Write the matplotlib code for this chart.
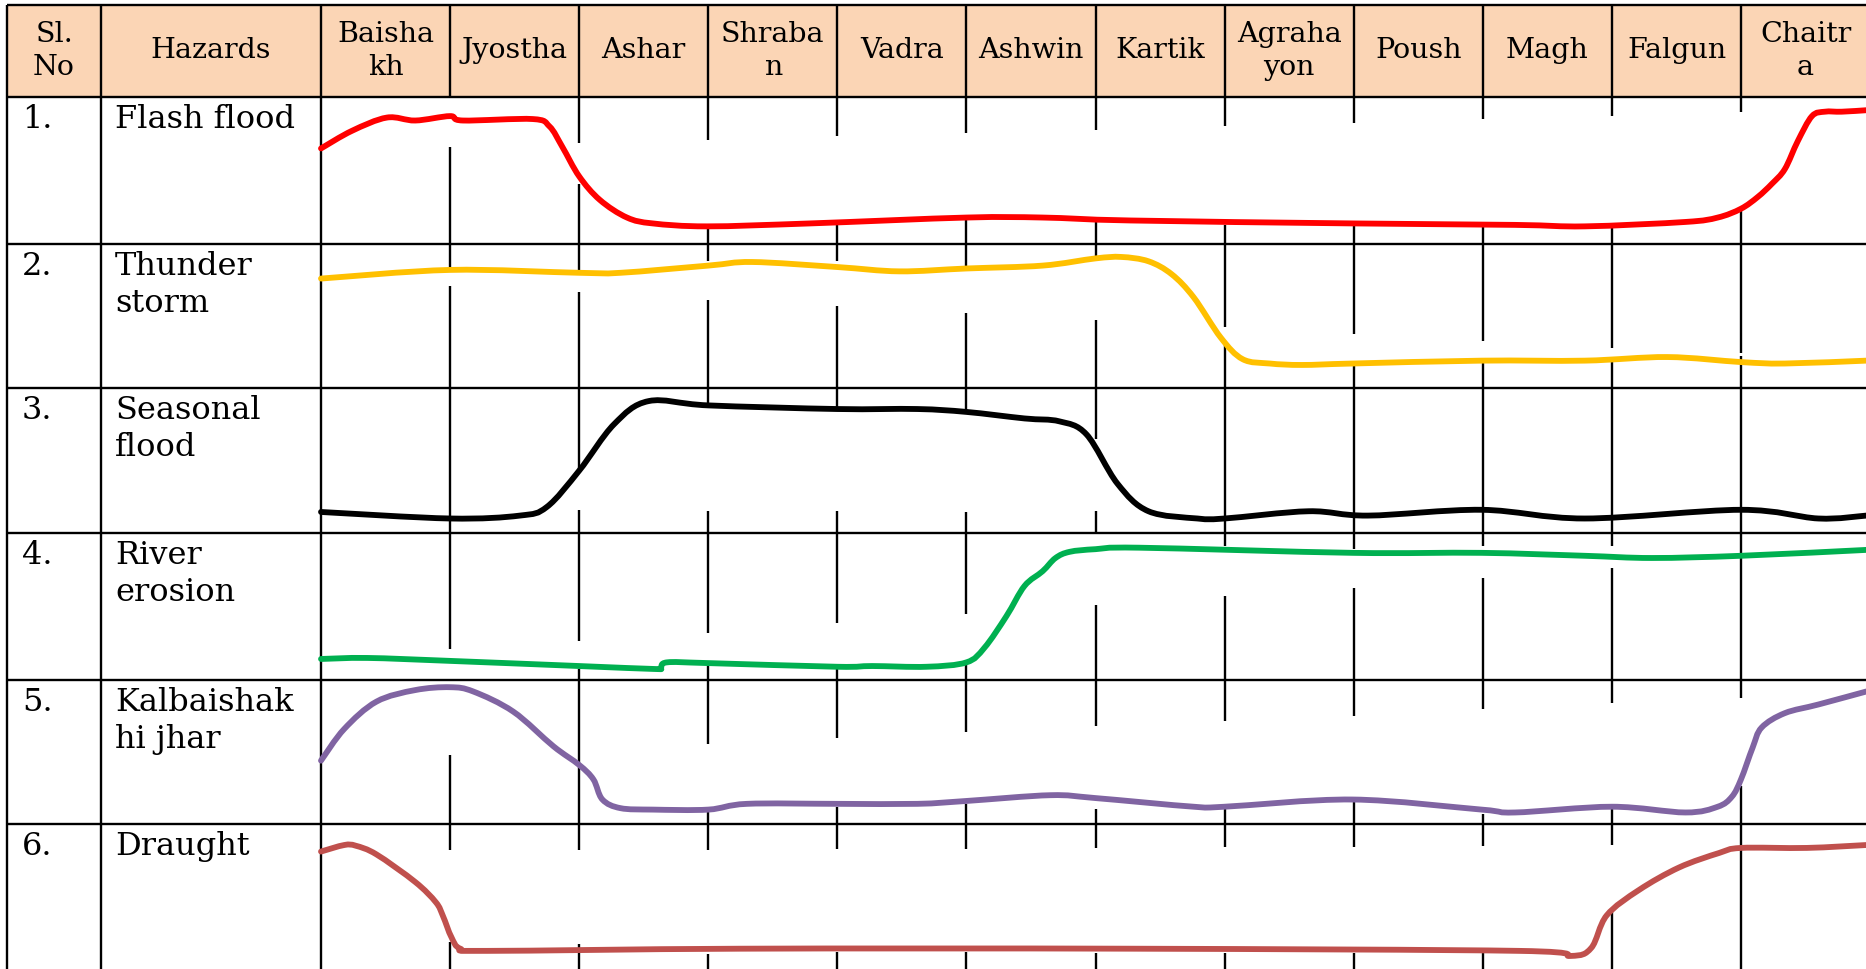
import numpy as np
import matplotlib
matplotlib.use('Agg')
import matplotlib.pyplot as plt
from matplotlib.patches import Rectangle, PathPatch
from matplotlib.path import Path

# ---- table text ----
months = ['Baisha\nkh', 'Jyostha', 'Ashar', 'Shraba\nn', 'Vadra', 'Ashwin',
          'Kartik', 'Agraha\nyon', 'Poush', 'Magh', 'Falgun', 'Chaitr\na']
sl_no = ['1.', '2.', '3.', '4.', '5.', '6.']
hazards = ['Flash flood', 'Thunder\nstorm', 'Seasonal\nflood', 'River\nerosion',
           'Kalbaishak\nhi jhar', 'Draught']
colors = ['#FF0000', '#FFC000', '#000000', '#00B050', '#8064A2', '#C0504D']

# ---- hand drawn hazard curves ----
# month position (0 = start of Baishakh, 12 = end of Chaitra), level inside the row (0 low .. 1 high)
flash_m = [0.00, 0.24, 0.51, 0.73, 1.00, 1.10, 1.64, 1.77, 1.87, 2.00, 2.16, 2.37, 2.57, 2.99, 3.79,
           5.00, 5.59, 6.27, 7.99, 9.25, 9.79, 10.57, 10.82, 11.00, 11.13, 11.24, 11.34, 11.44,
           11.55, 11.65, 11.78, 11.97]
flash_v = [0.65, 0.77, 0.86, 0.84, 0.87, 0.84, 0.85, 0.80, 0.66, 0.46, 0.30, 0.18, 0.14, 0.12, 0.14,
           0.18, 0.18, 0.16, 0.14, 0.13, 0.12, 0.15, 0.18, 0.24, 0.32, 0.41, 0.51, 0.70,
           0.87, 0.90, 0.90, 0.91]

thunder_m = [0.00, 1.00, 2.00, 2.32, 3.00, 3.34, 4.00, 4.48, 5.00, 5.59, 6.00, 6.20, 6.41, 6.59,
             6.76, 6.97, 7.14, 7.35, 7.60, 7.99, 8.99, 9.79, 10.43, 11.00, 11.34, 11.97]
thunder_v = [0.76, 0.82, 0.80, 0.80, 0.85, 0.875, 0.84, 0.81, 0.83, 0.85, 0.90, 0.91, 0.88, 0.79,
             0.63, 0.35, 0.20, 0.17, 0.16, 0.17, 0.19, 0.19, 0.215, 0.18, 0.17, 0.19]

seasonal_m = [0.00, 1.00, 1.54, 1.75, 2.00, 2.27, 2.54, 3.00, 4.00, 4.62, 5.00, 5.45, 5.72, 5.93,
              6.17, 6.41, 6.79, 7.00, 7.65, 8.11, 8.99, 9.79, 11.00, 11.60, 11.97]
seasonal_v = [0.145, 0.10, 0.12, 0.18, 0.43, 0.75, 0.91, 0.88, 0.855, 0.855, 0.835, 0.79, 0.77, 0.68,
              0.34, 0.15, 0.10, 0.10, 0.15, 0.12, 0.16, 0.10, 0.16, 0.10, 0.12]

erosion_m = [0.00, 0.36, 1.00, 2.00, 2.58, 2.63, 2.68, 3.00, 4.00, 4.27, 4.69, 5.00, 5.14, 5.31,
             5.45, 5.59, 5.69, 5.80, 6.00, 6.34, 7.99, 8.99, 9.79, 10.31, 11.00, 11.97]
erosion_v = [0.143, 0.15, 0.13, 0.095, 0.075, 0.08, 0.12, 0.115, 0.09, 0.095, 0.09, 0.12, 0.22, 0.435,
             0.64, 0.74, 0.83, 0.872, 0.89, 0.90, 0.865, 0.865, 0.845, 0.83, 0.845, 0.885]

kalbaishakhi_m = [0.00, 0.18, 0.43, 0.73, 1.00, 1.18, 1.49, 1.80, 2.00, 2.11, 2.18, 2.32, 2.57, 3.00,
                  3.30, 4.00, 4.62, 5.00, 5.65, 6.00, 6.76, 7.00, 7.99, 8.99, 9.25, 10.00, 10.57,
                  10.82, 10.93, 11.00, 11.09, 11.16, 11.34, 11.60, 11.97]
kalbaishakhi_v = [0.44, 0.66, 0.85, 0.93, 0.95, 0.92, 0.78, 0.54, 0.41, 0.31, 0.17, 0.11, 0.10, 0.10,
                  0.14, 0.14, 0.14, 0.16, 0.20, 0.18, 0.12, 0.12, 0.17, 0.10, 0.08, 0.12, 0.08,
                  0.12, 0.19, 0.31, 0.53, 0.67, 0.77, 0.83, 0.92]

draught_m = [0.00, 0.18, 0.27, 0.43, 0.73, 0.89, 0.945, 1.01, 1.08, 1.29, 3.25, 6.27, 9.28, 9.68,
             9.84, 9.96, 10.21, 10.52, 10.83, 11.00, 11.51, 11.97]
draught_v = [0.81, 0.855, 0.85, 0.79, 0.60, 0.46, 0.365, 0.22, 0.14, 0.125, 0.14, 0.14, 0.125, 0.09,
             0.145, 0.37, 0.545, 0.70, 0.80, 0.835, 0.835, 0.855]

curves = [(flash_m, flash_v), (thunder_m, thunder_v), (seasonal_m, seasonal_v),
          (erosion_m, erosion_v), (kalbaishakhi_m, kalbaishakhi_v), (draught_m, draught_v)]

# ---- layout (pixels) ----
W, H = 1866, 970
x_left, x_sl, x_haz = 7, 101, 321
month_w = 129.09
y_top, y_head = 6, 98
row_tops = [98, 245, 389, 534, 681, 825]
row_bots = row_tops[1:] + [970]

# parts of the month lines that are not hidden by the white boxes of the ink strokes
visible = [
    [(148, 268), (287, 650), (756, 851), (943, 970)],
    [(98, 144), (185, 272), (293, 474), (511, 642), (670, 851), (945, 970)],
    [(98, 141), (229, 262), (301, 407), (512, 634), (667, 745), (812, 851), (955, 970)],
    [(98, 137), (226, 262), (307, 408), (512, 624), (670, 739), (808, 850), (953, 970)],
    [(98, 134), (220, 268), (314, 411), (513, 615), (663, 733), (805, 850), (953, 970)],
    [(98, 131), (220, 262), (321, 440), (512, 534), (606, 727), (810, 849), (954, 970)],
    [(98, 127), (226, 328), (343, 547), (597, 722), (809, 848), (954, 970)],
    [(98, 124), (226, 335), (366, 550), (589, 717), (801, 848), (954, 970)],
    [(98, 120), (226, 342), (363, 547), (579, 710), (815, 847), (954, 970)],
    [(98, 117), (229, 349), (363, 547), (569, 704), (809, 846), (912, 970)],
    [(98, 113), (209, 354), (357, 699), (787, 970)],
]


def smooth_path(xs, ys):
    # catmull-rom through the read points, written as cubic bezier pieces
    p = np.column_stack([xs, ys])
    verts = [p[0]]
    codes = [Path.MOVETO]
    n = len(p)
    for i in range(n - 1):
        p0 = p[max(i - 1, 0)]
        p1 = p[i]
        p2 = p[i + 1]
        p3 = p[min(i + 2, n - 1)]
        c1 = p1 + (p2 - p0) / 6.0
        c2 = p2 - (p3 - p1) / 6.0
        verts += [c1, c2, p2]
        codes += [Path.CURVE4] * 3
    return Path(verts, codes)


plt.rcParams['font.family'] = ['DejaVu Serif']
fs_head = 20.5
fs_body = 23
lw_grid = 1.7

fig = plt.figure(figsize=(W / 100, H / 100), dpi=100)
ax = fig.add_axes([0, 0, 1, 1])
ax.set_xlim(0, W)
ax.set_ylim(H, 0)
ax.axis('off')

# header band
ax.add_patch(Rectangle((x_left, y_top), W - x_left + 20, y_head - y_top, fc='#FBD5B5', ec='none'))

# horizontal rules
ax.hlines([y_top, y_head] + row_tops[1:], x_left, W + 20, color='black', lw=lw_grid)
# full vertical rules
ax.vlines([x_left, x_sl, x_haz], y_top, H + 5, color='black', lw=lw_grid)
# month lines in the header
xs = [x_haz + (i + 1) * month_w for i in range(11)]
ax.vlines(xs, y_top, y_head, color='black', lw=lw_grid)
# broken month lines in the body
for x, segs in zip(xs, visible):
    for a, b in segs:
        ax.vlines(x, a, b, color='black', lw=lw_grid)

# header text
ax.text((x_left + x_sl) / 2, 51, 'Sl.\nNo', ha='center', va='center', fontsize=fs_head, linespacing=1.32)
ax.text((x_sl + x_haz) / 2, 51, 'Hazards', ha='center', va='center', fontsize=fs_head)
for i, m in enumerate(months):
    ax.text(x_haz + (i + 0.5) * month_w, 51, m, ha='center', va='center', fontsize=fs_head,
            linespacing=1.32, multialignment='center')

# row labels
for i in range(6):
    ax.text(22, row_tops[i] + 6, sl_no[i], ha='left', va='top', fontsize=fs_body)
    ax.text(115, row_tops[i] + 6, hazards[i], ha='left', va='top', fontsize=fs_body, linespacing=1.25)

# one axes per hazard row, x in months, y as level
for i, (m, v) in enumerate(curves):
    rt, rb = row_tops[i], row_bots[i]
    ra = fig.add_axes([x_haz / W, 1 - rb / H, 12 * month_w / W, (rb - rt) / H])
    ra.set_xlim(0, 12)
    ra.set_ylim(0, 1)
    ra.axis('off')
    ra.add_patch(PathPatch(smooth_path(m, v), fill=False, ec=colors[i], lw=4.2,
                           capstyle='round', joinstyle='round', clip_on=False))

fig.savefig('out.png', dpi=100, facecolor='white')
